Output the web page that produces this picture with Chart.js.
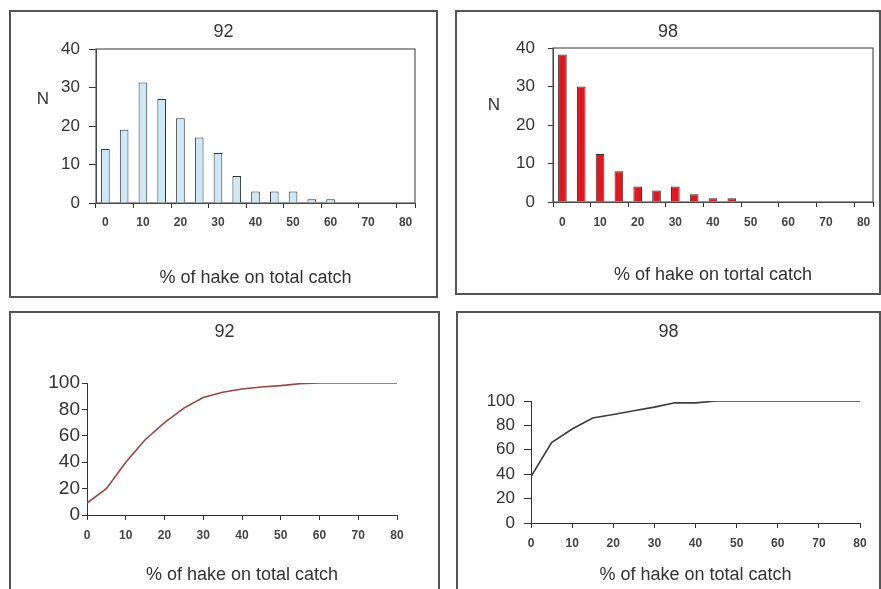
<!DOCTYPE html>
<html>
<head>
<meta charset="utf-8">
<script src="https://cdn.jsdelivr.net/npm/chart.js@4.4.0/dist/chart.umd.min.js"></script>
<style>
  html, body { margin: 0; padding: 0; background: #fff; overflow: hidden; }
  canvas { position: absolute; }
</style>
</head>
<body>
<canvas id="bar92" style="left:9px;top:10px" width="429" height="288"></canvas>
<canvas id="bar98" style="left:455px;top:10px" width="426" height="285"></canvas>
<canvas id="cum92" style="left:9px;top:311px" width="431" height="290"></canvas>
<canvas id="cum98" style="left:456px;top:311px" width="425" height="290"></canvas>
<script>
// classes of % of hake on total catch
var classes = [0, 5, 10, 15, 20, 25, 30, 35, 40, 45, 50, 55, 60, 65, 70, 75, 80];
// number of hauls per class
var n92 = [14, 19, 31.3, 27, 22, 17, 13, 7, 3, 3, 3, 1, 1, 0, 0, 0, 0];
var n98 = [38.3, 30, 12.5, 8, 4, 3, 4, 2, 1, 1, 0, 0, 0, 0, 0, 0, 0];
// cumulative %
var cum92 = [9, 20, 40, 57, 70, 81, 89, 93, 95.5, 97, 98, 99.5, 100, 100, 100, 100, 100];
var cum98 = [38, 66, 77, 86, 89, 92, 95, 98.5, 98.5, 100, 100, 100, 100, 100, 100, 100, 100];

var xTitle92 = "% of hake on total catch";
var xTitle98 = "% of hake on tortal catch";

Chart.defaults.font.family = "'Liberation Sans', Arial, sans-serif";
Chart.defaults.color = "#333";

// panel border, plot frame and the horizontal "N"
var panelPlugin = {
  id: "panel",
  beforeDatasetsDraw: function(chart, args, opts) {
    if (!opts.frame) return;
    var a = chart.chartArea, ctx = chart.ctx;
    ctx.save();
    ctx.strokeStyle = "#555";
    ctx.lineWidth = 1.2;
    ctx.strokeRect(a.left, a.top, a.right - a.left, a.bottom - a.top);
    ctx.restore();
  },
  afterDraw: function(chart, args, opts) {
    var ctx = chart.ctx;
    ctx.save();
    ctx.strokeStyle = "#555";
    ctx.lineWidth = 2;
    ctx.strokeRect(1, 1, chart.width - 2, chart.height - 2);
    if (opts.label) {
      ctx.fillStyle = "#333";
      ctx.font = "17px 'Liberation Sans', Arial, sans-serif";
      ctx.textAlign = "center";
      ctx.textBaseline = "middle";
      ctx.fillText(opts.label.text, opts.label.x, opts.label.y);
    }
    ctx.restore();
  }
};

// empty axis on the right, keeps the title centred on the whole panel
function spacer(w) {
  return {
    position: "right", display: true,
    grid: { display: false }, ticks: { display: false }, border: { display: false },
    afterFit: function(s) { s.width = w; }
  };
}

function barChart(id, title, values, fill, xTitle, lay) {
  return new Chart(document.getElementById(id), {
    type: "bar",
    data: {
      labels: classes,
      datasets: [{
        data: values,
        backgroundColor: fill,
        borderColor: "#333",
        borderWidth: 1,
        barPercentage: 0.46,
        categoryPercentage: 1
      }]
    },
    plugins: [panelPlugin],
    options: {
      responsive: false,
      animation: false,
      layout: { padding: 0 },
      plugins: {
        legend: { display: false },
        tooltip: { enabled: false },
        title: {
          display: true, text: title, color: "#333",
          font: { size: 18, weight: "normal" },
          padding: { top: 11.2, bottom: lay.titleBottom }
        },
        panel: { frame: true, label: { text: "N", x: lay.nx, y: lay.ny } }
      },
      scales: {
        x: {
          offset: true,
          grid: {
            offset: true,
            drawOnChartArea: false,
            tickLength: 5,
            tickColor: function(c) { return c.index % 2 ? "rgba(0,0,0,0)" : "#333"; }
          },
          border: { color: "#333" },
          ticks: {
            autoSkip: false, maxRotation: 0, padding: lay.xPad,
            color: "#444", font: { size: 12, weight: "bold" },
            callback: function(v, i) { return i % 2 ? "" : classes[i]; }
          },
          title: {
            display: true, text: xTitle, color: "#333",
            font: { size: 18 }, padding: { top: 0, bottom: 9.2 }
          },
          afterFit: function(s) { s.height = lay.xHeight; }
        },
        y: {
          min: 0, max: 40,
          ticks: { stepSize: 10, padding: lay.yPad, font: { size: 17 } },
          grid: { drawOnChartArea: false, tickLength: lay.yTick, tickColor: "#333" },
          border: { color: "#333" },
          afterFit: function(s) { s.width = lay.yWidth; }
        },
        pad: spacer(lay.right)
      }
    }
  });
}

function cumChart(id, title, values, color, lay) {
  return new Chart(document.getElementById(id), {
    type: "line",
    data: {
      datasets: [{
        data: values.map(function(v, i) { return { x: classes[i], y: v }; }),
        borderColor: color,
        borderWidth: 1.6,
        pointRadius: 0,
        tension: 0,
        fill: false
      }]
    },
    plugins: [panelPlugin],
    options: {
      responsive: false,
      animation: false,
      layout: { padding: 0 },
      plugins: {
        legend: { display: false },
        tooltip: { enabled: false },
        title: {
          display: true, text: title, color: "#333",
          font: { size: 18, weight: "normal" },
          padding: { top: 10.2, bottom: lay.titleBottom }
        },
        panel: { frame: false }
      },
      scales: {
        x: {
          type: "linear", min: 0, max: 80,
          grid: { drawOnChartArea: false, tickLength: 5, tickColor: "#333" },
          border: { color: "#333" },
          ticks: { stepSize: 10, maxRotation: 0, padding: 8, color: "#444", font: { size: 12, weight: "bold" } },
          title: {
            display: true, text: xTitle92, color: "#333",
            font: { size: 18 }, padding: { top: 0, bottom: 15.2 }
          },
          afterFit: function(s) { s.height = lay.xHeight; }
        },
        y: {
          min: 0, max: 100,
          ticks: { stepSize: 20, padding: lay.yPad, font: { size: lay.yFont } },
          grid: { drawOnChartArea: false, tickLength: lay.yTick, tickColor: "#333" },
          border: { color: "#333" },
          afterFit: function(s) { s.width = lay.yWidth; }
        },
        pad: spacer(lay.right)
      }
    }
  });
}

barChart("bar92", "92", n92, "#cde9f7", xTitle92,
  { right: 23, titleBottom: 6.2, xHeight: 95, xPad: 7, yWidth: 87, yTick: 7, yPad: 9, nx: 34, ny: 89 });
barChart("bar98", "98", n98, "#e3161d", xTitle98,
  { right: 8, titleBottom: 5.2, xHeight: 93, xPad: 8, yWidth: 98, yTick: 5, yPad: 13, nx: 39, ny: 95 });
cumChart("cum92", "92", cum92, "#a04442",
  { right: 43, titleBottom: 40.2, xHeight: 86, yWidth: 78, yTick: 5, yPad: 2, yFont: 19 });
cumChart("cum98", "98", cum98, "#3c3c3c",
  { right: 21, titleBottom: 58.2, xHeight: 78, yWidth: 75, yTick: 7, yPad: 9, yFont: 17 });
</script>
</body>
</html>
